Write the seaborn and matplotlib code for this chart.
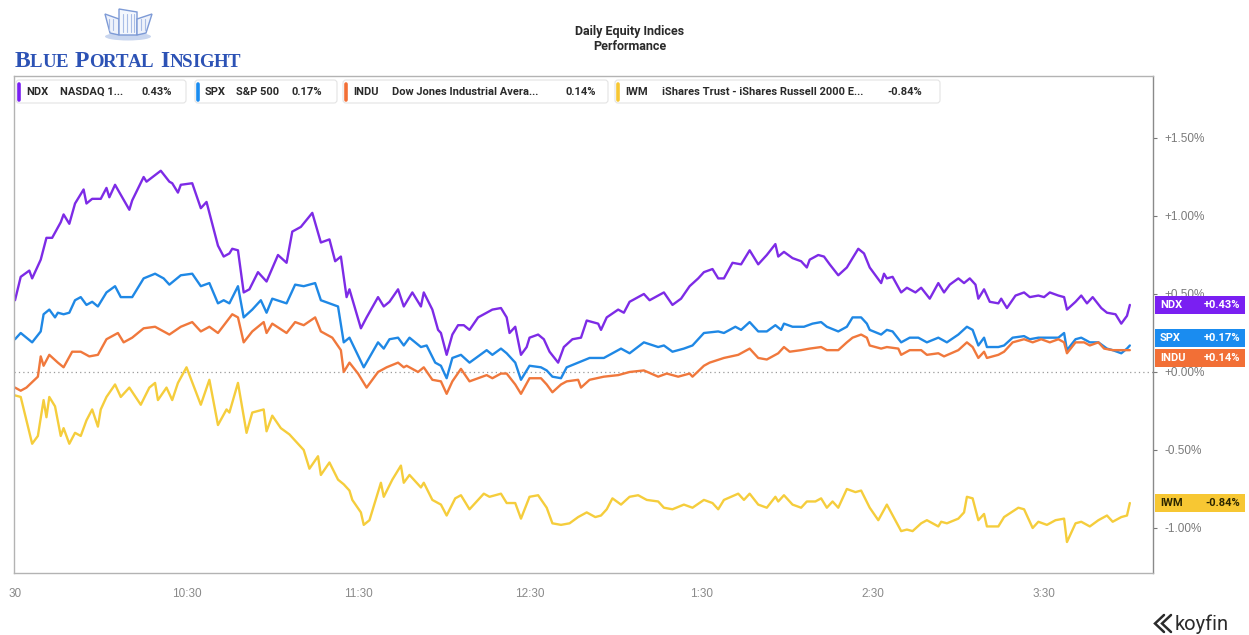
import numpy as np
import pandas as pd
import matplotlib
matplotlib.use("Agg")
import matplotlib.pyplot as plt
import seaborn as sns
from matplotlib.transforms import IdentityTransform
from matplotlib.patches import FancyBboxPatch, Rectangle, Polygon, Ellipse
from matplotlib.lines import Line2D
from matplotlib import font_manager

# ---------------- data (minutes after 9:30, % change) ----------------
tickers = ["NDX", "SPX", "INDU", "IWM"]
names = ["NASDAQ 1...", "S&P 500", "Dow Jones Industrial Avera...",
         "iShares Trust - iShares Russell 2000 E..."]
line_colors = ["#7d2be6", "#1f88e5", "#f0783c", "#f5cd3c"]
tag_colors = ["#7a1ff2", "#1a8cf0", "#f26f36", "#f7c733"]

ndx_min = [0, 2, 5, 6, 9, 11, 13, 16, 17, 19, 21, 24, 25, 27, 30, 32, 33, 35, 40, 41, 45, 46, 51, 54, 55, 57, 58,
           62, 65, 67, 71, 73, 75, 76, 78, 80, 82, 85, 88, 92, 95, 97, 100, 104, 107, 110, 112, 114, 116, 117, 121,
           123, 127, 129, 131, 134, 136, 139, 142, 143, 146, 148, 149, 151, 153, 155, 157, 159, 162, 165, 167, 170,
           172, 173, 175, 177, 179, 180, 183, 185, 187, 190, 192, 195, 198, 200, 204, 205, 207, 211, 213, 215, 220,
           222, 225, 227, 230, 233, 236, 239, 241, 244, 246, 248, 251, 254, 257, 260, 263, 266, 267, 269, 272, 275,
           277, 278, 281, 283, 285, 288, 291, 295, 297, 299, 303, 304, 305, 307, 310, 312, 315, 317, 320, 323, 325,
           327, 330, 332, 334, 336, 337, 339, 341, 344, 345, 347, 350, 353, 355, 358, 360, 362, 365, 367, 368, 371,
           373, 375, 377, 380, 382, 385, 387, 389, 390]
ndx_pct = [0.46, 0.61, 0.65, 0.60, 0.72, 0.86, 0.86, 0.96, 1.01, 0.95, 1.08, 1.17, 1.08, 1.11, 1.11, 1.18, 1.12,
           1.20, 1.04, 1.10, 1.25, 1.22, 1.29, 1.22, 1.21, 1.15, 1.20, 1.21, 1.05, 1.09, 0.81, 0.74, 0.76, 0.79,
           0.78, 0.51, 0.53, 0.64, 0.58, 0.75, 0.70, 0.90, 0.93, 1.02, 0.83, 0.85, 0.71, 0.74, 0.48, 0.53, 0.28,
           0.35, 0.48, 0.42, 0.45, 0.53, 0.42, 0.51, 0.42, 0.51, 0.40, 0.27, 0.25, 0.11, 0.24, 0.30, 0.30, 0.27,
           0.35, 0.38, 0.40, 0.41, 0.35, 0.25, 0.29, 0.11, 0.16, 0.22, 0.24, 0.21, 0.13, 0.06, 0.16, 0.21, 0.22,
           0.33, 0.31, 0.27, 0.35, 0.40, 0.38, 0.45, 0.50, 0.46, 0.49, 0.51, 0.43, 0.47, 0.55, 0.60, 0.64, 0.66,
           0.60, 0.60, 0.70, 0.69, 0.78, 0.69, 0.75, 0.82, 0.74, 0.77, 0.73, 0.71, 0.67, 0.72, 0.75, 0.74, 0.69,
           0.62, 0.67, 0.79, 0.76, 0.67, 0.57, 0.63, 0.60, 0.61, 0.51, 0.54, 0.51, 0.54, 0.47, 0.57, 0.51, 0.56,
           0.60, 0.57, 0.60, 0.56, 0.47, 0.53, 0.45, 0.44, 0.47, 0.41, 0.49, 0.51, 0.48, 0.49, 0.48, 0.51, 0.49,
           0.48, 0.40, 0.45, 0.49, 0.44, 0.48, 0.41, 0.38, 0.37, 0.31, 0.36, 0.43]

spx_min = [0, 2, 6, 9, 10, 12, 14, 15, 17, 19, 21, 23, 25, 27, 29, 32, 35, 37, 41, 45, 49, 52, 54, 58, 62, 65, 68,
           71, 73, 75, 78, 80, 83, 86, 88, 90, 95, 98, 101, 105, 107, 113, 115, 117, 122, 127, 129, 131, 134, 136,
           138, 142, 144, 147, 149, 151, 153, 156, 159, 162, 165, 167, 170, 172, 175, 177, 180, 184, 186, 188, 191,
           193, 197, 201, 206, 209, 212, 215, 220, 225, 227, 230, 234, 237, 241, 246, 248, 252, 254, 257, 260, 263,
           266, 268, 269, 272, 276, 279, 282, 284, 288, 291, 293, 296, 298, 299, 303, 305, 307, 310, 313, 316, 319,
           323, 326, 330, 333, 335, 337, 339, 340, 344, 346, 349, 353, 355, 358, 361, 365, 367, 368, 371, 373, 376,
           379, 382, 384, 387, 389, 390]
spx_pct = [0.21, 0.25, 0.19, 0.26, 0.37, 0.40, 0.35, 0.38, 0.37, 0.38, 0.46, 0.48, 0.43, 0.45, 0.42, 0.51, 0.55,
           0.48, 0.48, 0.60, 0.63, 0.60, 0.56, 0.62, 0.63, 0.55, 0.57, 0.44, 0.46, 0.44, 0.55, 0.35, 0.40, 0.46,
           0.38, 0.47, 0.44, 0.56, 0.55, 0.57, 0.46, 0.42, 0.19, 0.22, 0.03, 0.19, 0.15, 0.21, 0.22, 0.17, 0.22,
           0.16, 0.17, 0.06, 0.04, -0.04, 0.09, 0.11, 0.06, 0.10, 0.14, 0.11, 0.15, 0.12, 0.06, -0.05, 0.04, 0.03,
           0.01, -0.03, -0.04, 0.03, 0.06, 0.09, 0.09, 0.12, 0.15, 0.12, 0.19, 0.16, 0.17, 0.13, 0.15, 0.17, 0.25,
           0.26, 0.25, 0.29, 0.27, 0.32, 0.26, 0.26, 0.30, 0.27, 0.31, 0.29, 0.29, 0.31, 0.32, 0.29, 0.26, 0.29,
           0.35, 0.35, 0.31, 0.27, 0.24, 0.27, 0.26, 0.19, 0.22, 0.22, 0.19, 0.22, 0.19, 0.24, 0.29, 0.27, 0.17,
           0.22, 0.16, 0.16, 0.17, 0.22, 0.23, 0.21, 0.22, 0.22, 0.22, 0.25, 0.14, 0.21, 0.22, 0.19, 0.19, 0.15,
           0.14, 0.12, 0.15, 0.17]

indu_min = [0, 2, 4, 8, 9, 10, 12, 15, 17, 20, 23, 26, 29, 32, 36, 38, 41, 45, 49, 54, 58, 62, 65, 68, 71, 76, 78,
            80, 83, 87, 88, 90, 95, 98, 101, 105, 107, 111, 114, 115, 117, 120, 123, 127, 130, 134, 136, 137, 141,
            143, 146, 149, 151, 153, 156, 159, 162, 165, 167, 170, 172, 175, 177, 180, 184, 186, 188, 191, 193, 197,
            198, 201, 206, 211, 215, 220, 225, 228, 232, 236, 237, 241, 243, 248, 253, 257, 260, 263, 267, 269, 271,
            275, 278, 282, 284, 288, 291, 293, 296, 298, 299, 303, 305, 309, 310, 313, 317, 319, 323, 325, 330, 333,
            335, 337, 339, 340, 344, 346, 349, 353, 356, 359, 362, 365, 367, 368, 371, 374, 376, 379, 381, 384, 387,
            390]
indu_pct = [-0.10, -0.12, -0.10, -0.03, 0.10, 0.04, 0.11, 0.06, 0.03, 0.13, 0.13, 0.10, 0.11, 0.21, 0.25, 0.19,
            0.22, 0.28, 0.29, 0.24, 0.29, 0.32, 0.26, 0.29, 0.25, 0.37, 0.35, 0.19, 0.26, 0.32, 0.25, 0.31, 0.25,
            0.32, 0.30, 0.35, 0.26, 0.22, 0.14, 0.00, 0.06, -0.01, -0.10, 0.00, 0.03, 0.06, 0.03, 0.04, 0.00, 0.03,
            -0.05, -0.06, -0.14, -0.06, 0.02, -0.06, -0.04, -0.02, -0.04, -0.01, -0.01, -0.08, -0.14, -0.04, -0.04,
            -0.08, -0.13, -0.08, -0.06, -0.05, -0.10, -0.05, -0.03, -0.02, 0.00, 0.01, -0.03, -0.01, -0.03, -0.01,
            -0.03, 0.04, 0.06, 0.09, 0.11, 0.15, 0.09, 0.08, 0.12, 0.16, 0.13, 0.14, 0.15, 0.16, 0.14, 0.14, 0.19,
            0.22, 0.24, 0.22, 0.17, 0.15, 0.16, 0.15, 0.11, 0.14, 0.14, 0.11, 0.12, 0.10, 0.14, 0.19, 0.16, 0.09,
            0.13, 0.09, 0.11, 0.13, 0.19, 0.21, 0.19, 0.21, 0.19, 0.21, 0.19, 0.12, 0.19, 0.19, 0.17, 0.19, 0.15,
            0.14, 0.14, 0.14]

iwm_min = [0, 2, 6, 8, 10, 11, 12, 14, 16, 17, 19, 21, 23, 25, 27, 29, 30, 32, 35, 37, 40, 44, 47, 49, 50, 53, 55,
           57, 60, 65, 68, 71, 74, 75, 78, 81, 83, 87, 88, 90, 93, 96, 99, 101, 103, 106, 107, 110, 113, 115, 117,
           118, 121, 122, 124, 128, 129, 132, 135, 136, 138, 142, 143, 146, 149, 151, 154, 156, 159, 162, 164, 166,
           170, 172, 175, 177, 180, 183, 186, 188, 191, 194, 197, 200, 203, 205, 207, 209, 212, 215, 218, 221, 225,
           227, 230, 234, 237, 241, 244, 246, 248, 253, 255, 257, 260, 263, 266, 267, 269, 272, 275, 277, 280, 282,
           284, 286, 288, 291, 294, 296, 299, 302, 305, 310, 312, 314, 317, 319, 323, 324, 326, 330, 332, 333, 335,
           337, 339, 340, 344, 346, 351, 353, 356, 358, 361, 364, 367, 368, 371, 373, 376, 379, 382, 384, 387, 389,
           390]
iwm_pct = [-0.15, -0.16, -0.46, -0.41, -0.18, -0.29, -0.16, -0.22, -0.41, -0.36, -0.46, -0.39, -0.41, -0.31,
           -0.24, -0.35, -0.24, -0.16, -0.08, -0.16, -0.10, -0.21, -0.10, -0.07, -0.18, -0.10, -0.18, -0.07, 0.03,
           -0.21, -0.05, -0.34, -0.24, -0.26, -0.07, -0.39, -0.26, -0.24, -0.38, -0.28, -0.36, -0.40, -0.46, -0.50,
           -0.62, -0.54, -0.66, -0.58, -0.69, -0.72, -0.76, -0.82, -0.90, -0.98, -0.95, -0.71, -0.80, -0.69, -0.60,
           -0.71, -0.66, -0.74, -0.71, -0.82, -0.85, -0.92, -0.81, -0.79, -0.88, -0.82, -0.78, -0.80, -0.78, -0.84,
           -0.84, -0.94, -0.80, -0.79, -0.87, -0.97, -0.98, -0.97, -0.93, -0.90, -0.93, -0.92, -0.88, -0.81, -0.85,
           -0.80, -0.79, -0.82, -0.83, -0.87, -0.88, -0.85, -0.87, -0.82, -0.84, -0.88, -0.82, -0.78, -0.82, -0.78,
           -0.85, -0.87, -0.80, -0.83, -0.79, -0.85, -0.87, -0.83, -0.83, -0.81, -0.87, -0.83, -0.87, -0.75, -0.77,
           -0.76, -0.87, -0.95, -0.85, -1.02, -1.01, -1.02, -0.97, -0.95, -0.99, -0.96, -0.97, -0.94, -0.90, -0.80,
           -0.81, -0.95, -0.91, -0.99, -0.99, -0.93, -0.87, -0.88, -1.00, -0.96, -0.98, -0.95, -0.94, -1.09, -0.97,
           -0.96, -0.99, -0.95, -0.92, -0.96, -0.93, -0.92, -0.84]

x_ticks = [0, 60, 120, 180, 240, 300, 360]
x_tick_labels = ["30", "10:30", "11:30", "12:30", "1:30", "2:30", "3:30"]
y_ticks = [-1.0, -0.5, 0.0, 0.5, 1.0, 1.5]
y_tick_labels = ["-1.00%", "-0.50%", "+0.00%", "+0.50%", "+1.00%", "+1.50%"]

series_min = [ndx_min, spx_min, indu_min, iwm_min]
series_pct = [ndx_pct, spx_pct, indu_pct, iwm_pct]

frames = [pd.DataFrame({"minute": m, "pct": p, "ticker": t})
          for m, p, t in zip(series_min, series_pct, tickers)]
df = pd.concat(frames, ignore_index=True)

# ---------------- style ----------------
sns.set_style("white")
avail = {f.name for f in font_manager.fontManager.ttflist}
base_font = "Liberation Sans" if "Liberation Sans" in avail else "DejaVu Sans"
narrow_font = "Liberation Sans Narrow" if "Liberation Sans Narrow" in avail else base_font
ui_font = "Roboto" if "Roboto" in avail else base_font
serif_font = "Liberation Serif" if "Liberation Serif" in avail else "DejaVu Serif"
plt.rcParams["font.family"] = [base_font, "DejaVu Sans"]

W, H = 1249, 635
fig = plt.figure(figsize=(W / 100, H / 100), dpi=100)
fig.patch.set_facecolor("white")
ax_l, ax_r, ax_t, ax_b = 14, 1153, 76, 573
ax = fig.add_axes([ax_l / W, 1 - ax_b / H, (ax_r - ax_l) / W, (ax_b - ax_t) / H])

sns.lineplot(data=df, x="minute", y="pct", hue="ticker", hue_order=tickers,
             palette=dict(zip(tickers, line_colors)), estimator=None, sort=False,
             linewidth=1.7, legend=False, ax=ax)

ax.set_xlim(-0.35, 398.1)
ax.set_ylim(-1.2885, 1.8974)
ax.axhline(0, color="#9a9a9a", lw=0.9, ls=(0, (1, 2.5)), zorder=0)

ax.set_xlabel("")
ax.set_ylabel("")
ax.set_xticks(x_ticks)
ax.set_xticklabels(x_tick_labels, fontfamily=narrow_font, fontsize=8.5, color="#8a8a8a")
ax.yaxis.tick_right()
ax.set_yticks(y_ticks)
ax.set_yticklabels(y_tick_labels, fontsize=8.5, color="#7a7a7a")
ax.tick_params(axis="x", length=3, width=0.8, color="#b0b0b0", pad=8)
ax.tick_params(axis="y", length=3, width=0.8, color="#777777", pad=5, right=True, left=False)
for side in ["left", "top", "bottom"]:
    ax.spines[side].set_color("#b3b3b3")
    ax.spines[side].set_linewidth(1.0)
ax.spines["right"].set_color("#8a8a8a")
ax.spines["right"].set_linewidth(1.0)

ID = IdentityTransform()

# ---------------- legend chips ----------------
chip_x = [16, 195, 343, 615]
chip_w = [170, 142, 265, 325]
name_off = [44, 41, 49, 47]
val_off = [125, 96, 222, 272]
for i, t in enumerate(tickers):
    x0 = chip_x[i]
    fig.add_artist(FancyBboxPatch((x0, H - 103), chip_w[i], 23,
                                  boxstyle="round,pad=0,rounding_size=3",
                                  fc="white", ec="#e4e4e4", lw=0.8, transform=ID))
    fig.add_artist(Line2D([x0 + 2.5, x0 + 2.5], [H - 100, H - 84], color=tag_colors[i],
                          lw=2.6, solid_capstyle="round", transform=ID))
    last = series_pct[i][-1]
    yc = H - 92
    for off, s in [(10, t), (name_off[i], names[i]), (val_off[i], f"{last:.2f}%")]:
        fig.text(x0 + off, yc, s, transform=ID, fontfamily=ui_font, fontsize=8,
                 fontweight="semibold", color="#2a2a2a", va="center", ha="left")

# ---------------- right-side value tags ----------------
def spread(ys, gap):
    groups = []
    for y in ys:
        groups.append([y, 1, y])
        while len(groups) > 1:
            g1, g2 = groups[-2], groups[-1]
            bottom1 = g1[0] - (g1[1] - 1) * gap
            if bottom1 - g2[0] < gap:
                n = g1[1] + g2[1]
                s = g1[2] + g2[2]
                groups[-2:] = [[s / n + (n - 1) * gap / 2, n, s]]
            else:
                break
    out = []
    for top, n, s in groups:
        out += [top - k * gap for k in range(n)]
    return out

lasts = [p[-1] for p in series_pct]
order = sorted(range(4), key=lambda k: -lasts[k])
ypix = [ax.transData.transform((0, lasts[k]))[1] for k in order]
ypos = spread(ypix, 19.5)
for k, yc in zip(order, ypos):
    fig.add_artist(Rectangle((1155, yc - 9), 90, 18, fc=tag_colors[k], ec="none", transform=ID))
    tc = "#2b2500" if tickers[k] == "IWM" else "white"
    fig.text(1160, yc, tickers[k], transform=ID, fontfamily=ui_font, fontsize=8,
             fontweight="bold", color=tc, va="center", ha="left")
    fig.text(1240, yc, f"{lasts[k]:+.2f}%", transform=ID, fontfamily=ui_font, fontsize=8,
             fontweight="bold", color=tc, va="center", ha="right")

# ---------------- title ----------------
fig.text(630, H - 32, "Daily Equity Indices", transform=ID, fontfamily=ui_font, fontsize=9,
         fontweight="semibold", color="#2a2a2a", ha="center", va="center")
fig.text(630, H - 46, "Performance", transform=ID, fontfamily=ui_font, fontsize=9,
         fontweight="semibold", color="#2a2a2a", ha="center", va="center")

# ---------------- Blue Portal Insight logo (small caps) ----------------
logo_blue = "#2c52b5"
renderer = fig.canvas.get_renderer()
words = ["BLUE", "PORTAL", "INSIGHT"]
big_fs, small_fs = 17.0, 13.6
glyphs = []
for wi, wd in enumerate(words):
    for li, ch in enumerate(wd):
        fs = big_fs if li == 0 else small_fs
        tt = fig.text(0, H - 67, ch, transform=ID, fontfamily=serif_font, fontsize=fs,
                      fontweight="bold", color=logo_blue, ha="left", va="baseline")
        glyphs.append((tt, tt.get_window_extent(renderer).width, wi))
word_gap = 7.0
n_letter_gaps = len(glyphs) - len(words)
natural = sum(g[1] for g in glyphs) + word_gap * (len(words) - 1)
target = 240 - 15
extra = (target - natural) / max(n_letter_gaps, 1)
extra = min(max(extra, -0.5), 1.5)
xcur = 15.0
prev_word = 0
for tt, wdt, wi in glyphs:
    if wi != prev_word:
        xcur += word_gap - extra
        prev_word = wi
    tt.set_x(xcur)
    xcur += wdt + extra

fig.add_artist(Ellipse((128, H - 36.5), 46, 8, fc="#c9d6ef", ec="none", transform=ID))
icon_ec = "#7d9ad6"
fig.add_artist(Polygon([(105, H - 14), (119, H - 19), (119, H - 35), (110, H - 33)], closed=True,
                       fc="#eef2fb", ec=icon_ec, lw=1.0, transform=ID))
fig.add_artist(Polygon([(119, H - 9), (137, H - 12), (137, H - 35), (119, H - 35)], closed=True,
                       fc="#f4f7fd", ec=icon_ec, lw=1.0, transform=ID))
fig.add_artist(Polygon([(137, H - 19), (152, H - 14), (146, H - 33), (137, H - 35)], closed=True,
                       fc="#eef2fb", ec=icon_ec, lw=1.0, transform=ID))
for xx in [123, 127, 131, 134]:
    fig.add_artist(Line2D([xx, xx], [H - 14, H - 32], color="#a9bde6", lw=0.8, transform=ID))
for xx in [109, 113, 141, 145]:
    fig.add_artist(Line2D([xx, xx], [H - 19, H - 30], color="#a9bde6", lw=0.8, transform=ID))

# ---------------- koyfin logo ----------------
kc = "#2b2b2b"
fig.add_artist(Line2D([1164, 1155, 1164], [H - 615, H - 623.5, H - 632], color=kc, lw=1.8,
                      transform=ID, solid_joinstyle="miter"))
fig.add_artist(Line2D([1171, 1162, 1171], [H - 615, H - 623.5, H - 632], color=kc, lw=1.8,
                      transform=ID, solid_joinstyle="miter"))
fig.text(1175, H - 630, "koyfin", transform=ID, fontfamily=ui_font, fontsize=14.5,
         color=kc, ha="left", va="baseline")

fig.savefig("out.png", dpi=100, facecolor="white")
